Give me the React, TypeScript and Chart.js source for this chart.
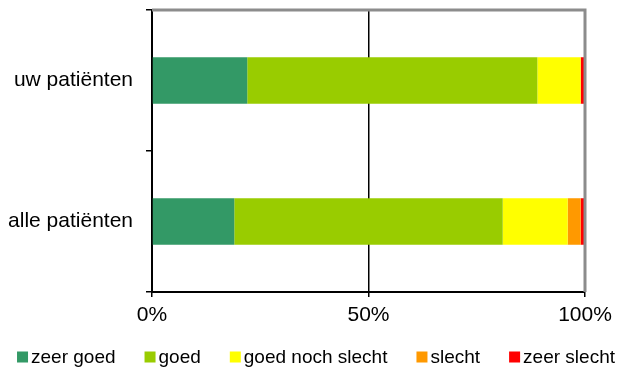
import React, { useEffect, useRef } from "react";
import { Chart, registerables } from "chart.js";

Chart.register(...registerables);

const categories = ["uw patiënten", "alle patiënten"];
const seriesNames = ["zeer goed", "goed", "goed noch slecht", "slecht", "zeer slecht"];
const seriesColors = ["#339966", "#99CC00", "#FFFF00", "#FF9900", "#FF0000"];
const zeerGoed = [22, 19];
const goed = [67, 62];
const goedNochSlecht = [10, 15];
const slecht = [0, 3];
const zeerSlecht = [1, 1];
const xTicks = [0, 50, 100];

const FONT = "'Liberation Sans', Arial, sans-serif";

const framePlugin = {
  id: "frame",
  afterDatasetsDraw(chart: any) {
    const { ctx, chartArea } = chart;
    ctx.save();
    ctx.strokeStyle = "#8c8c8c";
    ctx.lineWidth = 3;
    ctx.beginPath();
    ctx.moveTo(chartArea.left, chartArea.top);
    ctx.lineTo(chartArea.right, chartArea.top);
    ctx.lineTo(chartArea.right, chartArea.bottom);
    ctx.stroke();
    ctx.restore();
  },
};

const legendPlugin = {
  id: "customLegend",
  afterDraw(chart: any) {
    const { ctx } = chart;
    const fontSize = 19;
    const box = 11;
    const gap = 3;
    const spacing = 29;
    ctx.save();
    ctx.font = `${fontSize}px ${FONT}`;
    const items = chart.data.datasets.map((d: any) => ({
      label: d.label,
      color: d.backgroundColor,
      w: ctx.measureText(d.label).width,
    }));
    const total =
      items.reduce((s: number, it: any) => s + box + gap + it.w, 0) + spacing * (items.length - 1);
    let x = 316 - total / 2;
    const y = 357;
    ctx.textBaseline = "middle";
    ctx.textAlign = "left";
    items.forEach((it: any) => {
      ctx.fillStyle = it.color;
      ctx.fillRect(x, y - box / 2, box, box);
      x += box + gap;
      ctx.fillStyle = "#000";
      ctx.fillText(it.label, x, y + 1);
      x += it.w + spacing;
    });
    ctx.restore();
  },
};

export default function App() {
  const ref = useRef<HTMLCanvasElement | null>(null);
  useEffect(() => {
    document.body.style.margin = "0";
    const values = [zeerGoed, goed, goedNochSlecht, slecht, zeerSlecht];
    const chart = new Chart(ref.current!, {
      type: "bar",
      data: {
        labels: categories,
        datasets: seriesNames.map((name, i) => ({
          label: name,
          data: values[i],
          backgroundColor: seriesColors[i],
          borderWidth: 0,
          categoryPercentage: 1,
          barPercentage: 0.33,
        })),
      },
      options: {
        indexAxis: "y",
        responsive: false,
        animation: false,
        devicePixelRatio: 1,
        layout: { padding: { left: 0, right: 33, top: 10, bottom: 39 } },
        plugins: { legend: { display: false }, tooltip: { enabled: false } },
        scales: {
          x: {
            stacked: true,
            min: 0,
            max: 100,
            afterBuildTicks: (s: any) => {
              s.ticks = xTicks.map((v) => ({ value: v }));
            },
            afterFit: (s: any) => {
              s.height = 40;
              s.paddingLeft = 0;
              s.paddingRight = 0;
            },
            ticks: {
              callback: (v: any) => `${v}%`,
              color: "#000",
              font: { family: FONT, size: 21 },
              padding: 6,
              maxRotation: 0,
            },
            grid: {
              color: (c: any) => (c.tick && c.tick.value === 50 ? "#000" : "rgba(0,0,0,0)"),
              tickColor: "#000",
              lineWidth: 1.5,
              tickLength: 5,
            },
            border: { color: "#000", width: 2 },
          },
          y: {
            stacked: true,
            afterFit: (s: any) => {
              s.width = 152;
              s.paddingTop = 0;
              s.paddingBottom = 0;
            },
            ticks: {
              color: "#000",
              font: { family: FONT, size: 21 },
              padding: 13,
            },
            grid: {
              offset: true,
              drawOnChartArea: false,
              color: "#000",
              lineWidth: 1.5,
              tickLength: 6,
            },
            border: { color: "#000", width: 2 },
          },
        },
      },
      plugins: [framePlugin, legendPlugin],
    });
    return () => chart.destroy();
  }, []);
  return <canvas ref={ref} width={618} height={371} style={{ display: "block" }} />;
}
